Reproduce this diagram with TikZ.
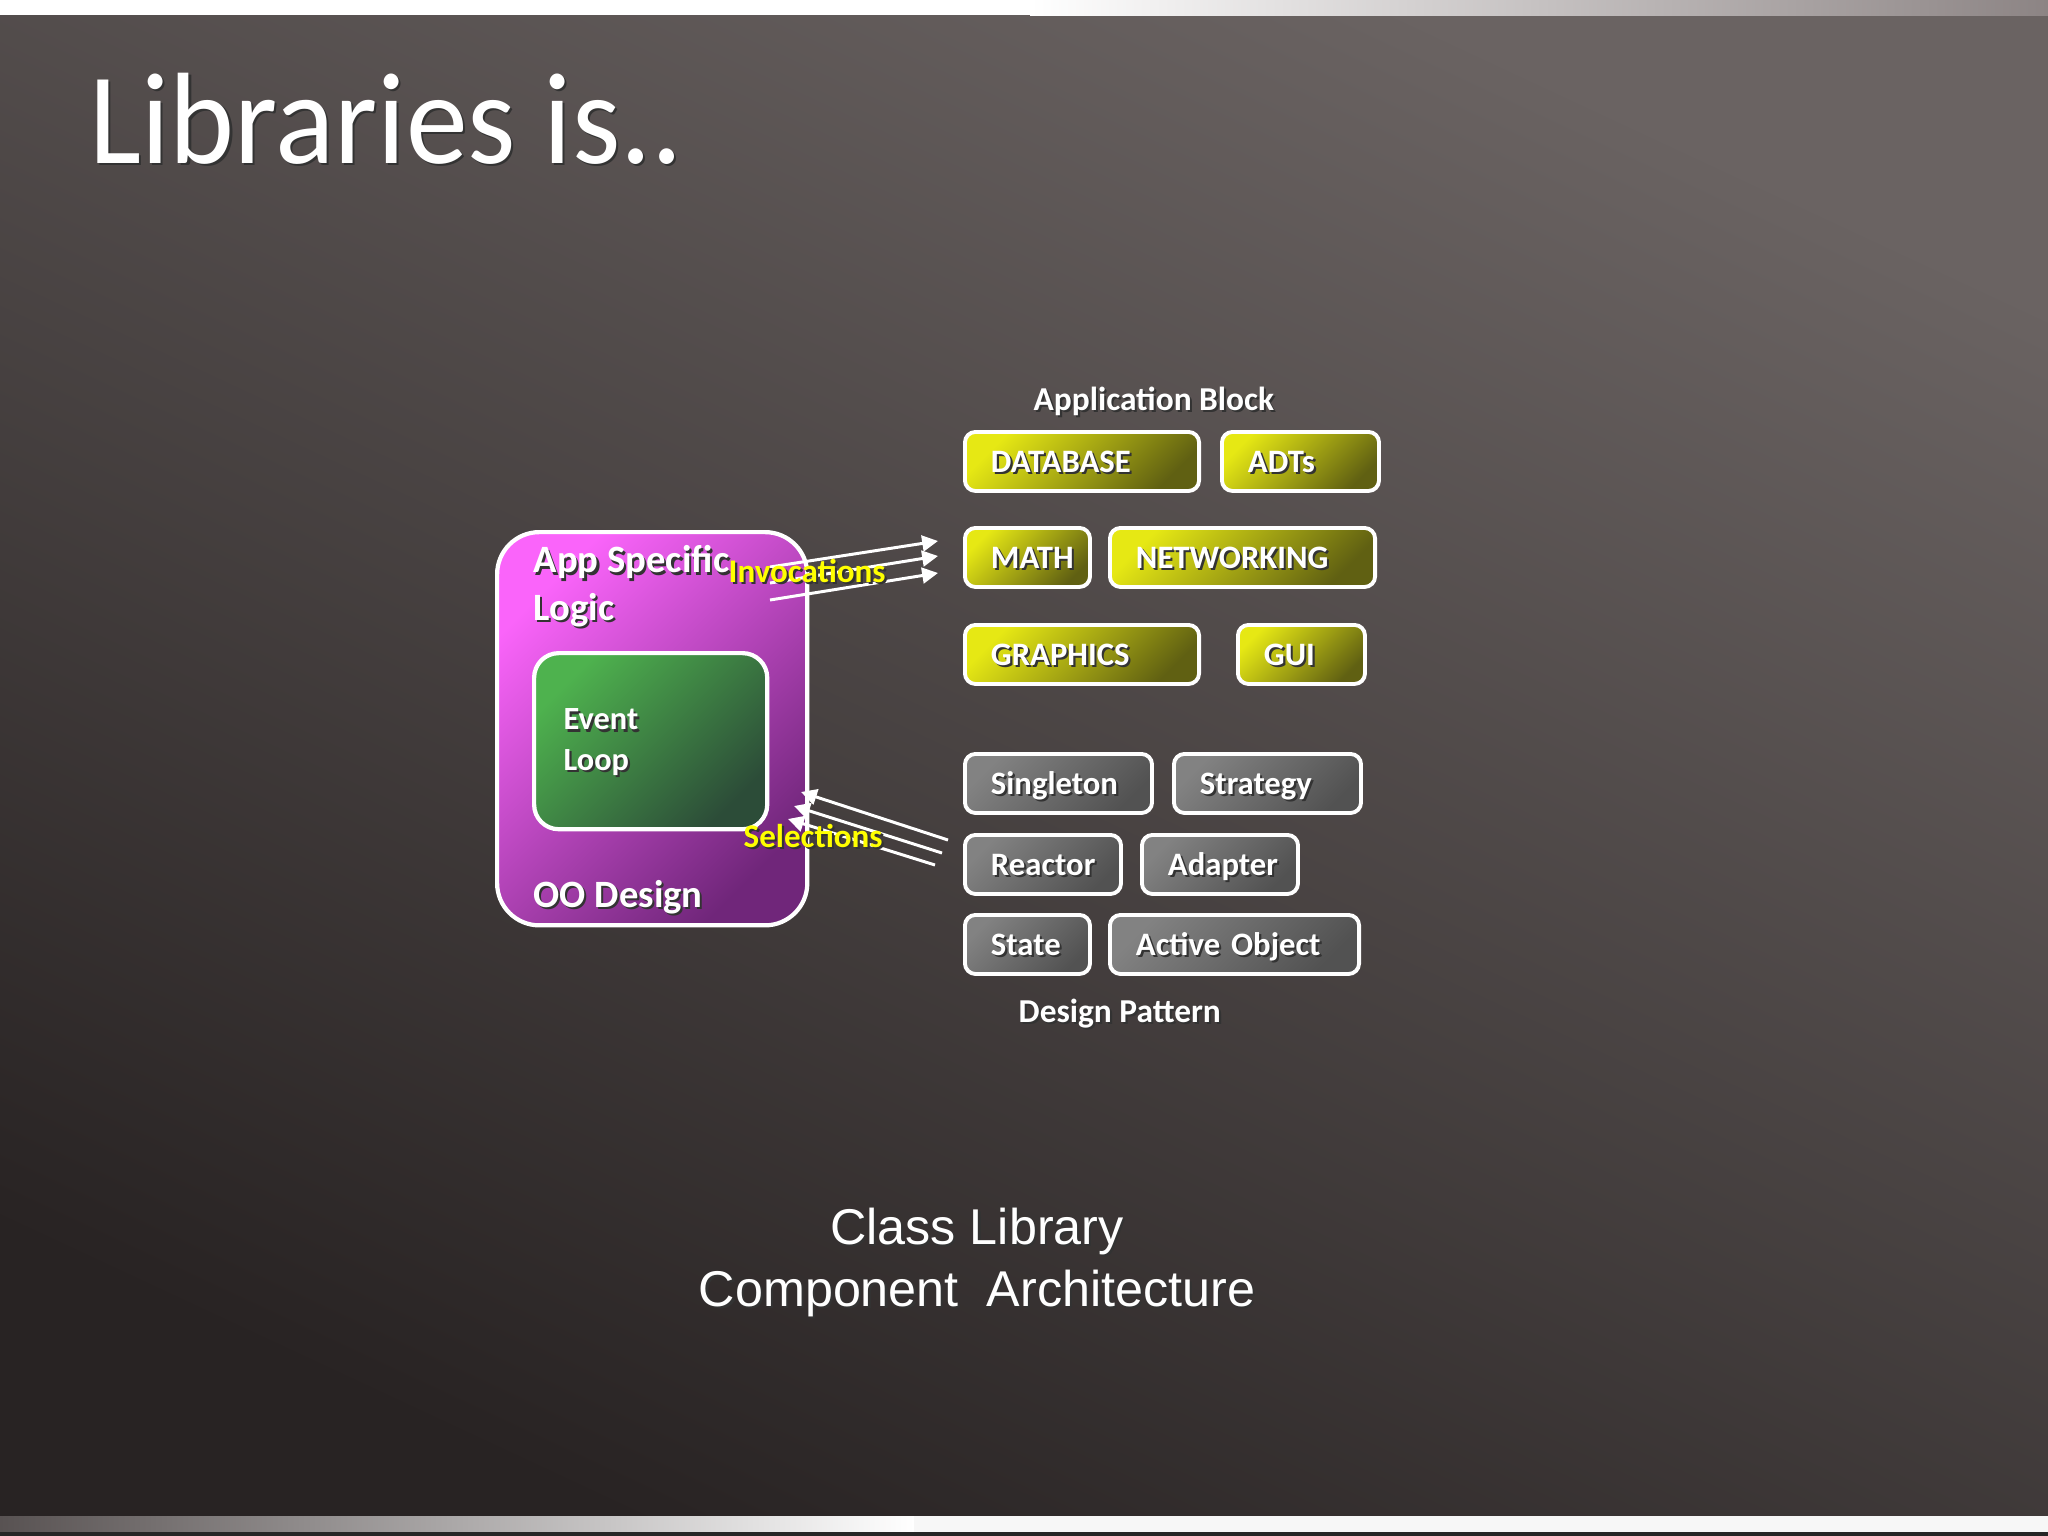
\documentclass[tikz,border=0pt]{standalone}
\usepackage{fontspec}
\setmainfont{Carlito}
\newfontfamily\titlefont[FakeStretch=0.95]{Carlito}
\newfontfamily\arialfont{Liberation Sans}
\usetikzlibrary{arrows.meta}

\definecolor{bgtop}{RGB}{106,99,98}
\definecolor{bgbot}{RGB}{40,35,35}
\definecolor{magtop}{RGB}{250,100,250}
\definecolor{magbot}{RGB}{112,38,122}
\definecolor{grntop}{RGB}{78,178,78}
\definecolor{grnbot}{RGB}{44,76,56}
\definecolor{yeltop}{RGB}{230,232,20}
\definecolor{yelbot}{RGB}{96,96,18}
\definecolor{grytop}{RGB}{130,130,130}
\definecolor{grybot}{RGB}{82,82,82}
\definecolor{labyel}{RGB}{255,255,0}
\definecolor{stripgray}{RGB}{140,132,132}
\definecolor{stripdark}{RGB}{88,82,82}

\newcommand{\shd}[1]{\rlap{\kern0.6pt\raisebox{-0.6pt}{\color{black!80}#1}}#1}

\tikzset{
  lib/.style={draw=white, line width=1.1pt, rounded corners=3pt, anchor=north west,
    inner xsep=0.26cm, inner ysep=0pt, minimum height=0.59cm, align=left,
    text height=6.2pt, text depth=0pt, text=white,
    font=\fontsize{9.3}{11}\selectfont\bfseries},
  blockbox/.style={lib, top color=yeltop, bottom color=yelbot, shading angle=45},
  patternbox/.style={lib, top color=grytop, bottom color=grybot, shading angle=45},
  plain/.style={anchor=base west, inner sep=0pt, text=white, align=left},
  calltext/.style={plain, text=labyel, font=\fontsize{9.4}{11}\selectfont\bfseries},
  arr/.style={draw=white, line width=0.85pt, -{Triangle[length=4.5pt,width=4.5pt]}},
}

\begin{document}
\begin{tikzpicture}[x=0.01cm, y=-0.01cm]
\useasboundingbox (0,0) rectangle (2048,1536);

% background and strips
\shade[top color=bgtop, bottom color=bgbot, shading angle=-25] (0,0) rectangle (2048,1536);
\fill[white] (0,0) rectangle (1030,15);
\shade[left color=white, right color=stripgray] (1030,0) rectangle (2048,15);
\shade[left color=stripdark, right color=white] (0,1516) rectangle (914,1532);
\fill[white!94!gray] (914,1516) rectangle (2048,1532);
\fill[black!85] (0,1532) rectangle (2048,1536);

\node[plain, font=\titlefont\fontsize{37}{44}\selectfont] (title) at (89,163) {\shd{Libraries is..}};

% application side
\node[draw=white, line width=1.2pt, rounded corners=12pt, top color=magtop, bottom color=magbot,
  shading angle=45, anchor=north west, minimum width=3.1cm, minimum height=3.93cm,
  inner sep=0pt] (app) at (495,530) {};
\node[draw=white, line width=1.2pt, rounded corners=7pt, top color=grntop, bottom color=grnbot,
  shading angle=45, anchor=north west, minimum width=2.33cm, minimum height=1.76cm,
  inner sep=0pt] (loop) at (532,651) {};

\node[plain, font=\fontsize{11}{13.4}\selectfont\bfseries] (logic) at (533,620)
  {\shd{App Specific}\\\shd{Logic}};
\node[plain, font=\fontsize{9.2}{11.4}\selectfont\bfseries] (event) at (563,770)
  {\shd{Event}\\\shd{Loop}};
\node[plain, font=\fontsize{11}{13.4}\selectfont\bfseries] (oo) at (533,907) {\shd{OO Design}};

% library blocks
\node[plain, font=\fontsize{9.5}{11}\selectfont\bfseries] (blocktitle) at (1033,410) {\shd{Application Block}};
\foreach \x/\y/\w/\nm/\txt in {963/430/234/db/DATABASE, 1220/430/157/adt/ADTs,
    963/526/125/math/MATH, 1108/526/265/net/NETWORKING,
    963/623/234/gfx/GRAPHICS, 1236/623/127/gui/GUI}{
  \pgfmathsetmacro\tw{(\w-52)/100}
  \node[blockbox, text width=\tw cm] (\nm) at (\x,\y) {\shd{\txt}};
}

\foreach \x/\y/\w/\nm/\txt in {963/752/187/single/Singleton, 1172/752/187/strat/Strategy,
    963/833/156/react/Reactor, 1140/833/156/adapt/Adapter,
    963/913/125/state/State, 1108/913/249/active/Active Object}{
  \pgfmathsetmacro\tw{(\w-52)/100}
  \node[patternbox, text width=\tw cm] (\nm) at (\x,\y) {\shd{\txt}};
}
\node[plain, font=\fontsize{9.5}{11}\selectfont\bfseries] (patterntitle) at (1018,1022) {\shd{Design Pattern}};

% invocations and selections
\foreach \n/\sx/\sy/\tx/\ty in {1/770/567/938/541, 2/770/583/938/556, 3/770/600/938/573}{
  \coordinate (inv\n a) at (\sx,\sy);
  \coordinate (inv\n b) at (\tx,\ty);
  \draw[arr] (inv\n a) -- (inv\n b);
}
\foreach \n/\sx/\sy/\tx/\ty in {1/948/840/801/792, 2/942/853/794/806, 3/935/865/788/819}{
  \coordinate (sel\n a) at (\sx,\sy);
  \coordinate (sel\n b) at (\tx,\ty);
  \draw[arr] (sel\n a) -- (sel\n b);
}
\node[calltext] (invtext) at (728,582) {\shd{Invocations}};
\node[calltext] (seltext) at (743,847) {\shd{Selections}};

\node[anchor=base, inner sep=0pt, text=white, align=center,
  font=\arialfont\fontsize{14.3}{17.4}\selectfont] (caption) at (977,1306)
  {\shd{Class Library}\\\shd{Component~~Architecture}};
\end{tikzpicture}
\end{document}
